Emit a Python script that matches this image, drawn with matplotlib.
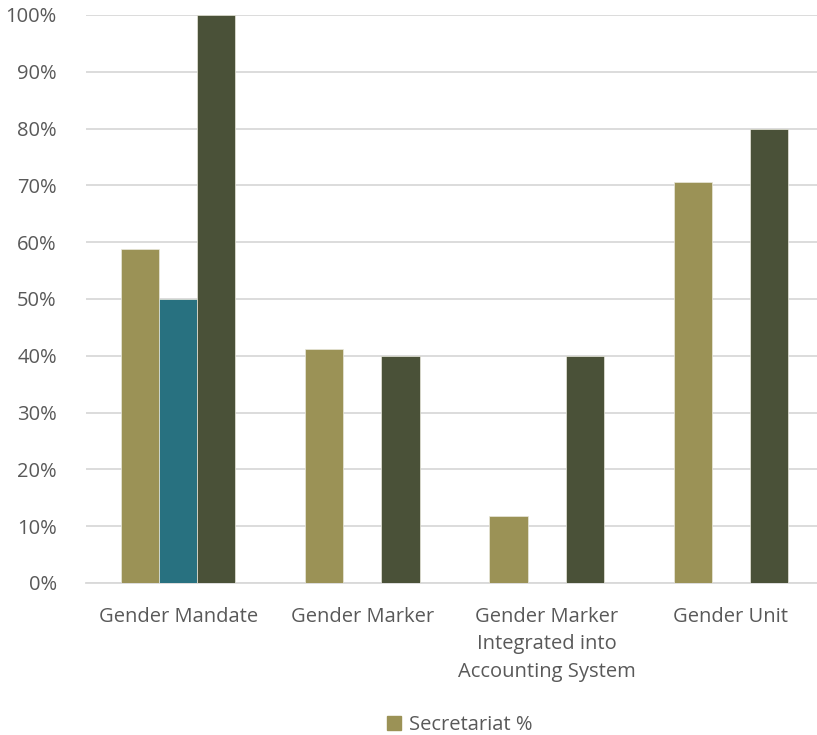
import numpy as np
import matplotlib.pyplot as plt
from matplotlib.patches import Patch

categories = ["Gender Mandate", "Gender Marker", "Gender Marker\nIntegrated into\nAccounting System", "Gender Unit"]
secretariat = [58.8, 41.2, 11.8, 70.6]
middle = [50.0, 0.0, 0.0, 0.0]
third = [100.0, 40.0, 40.0, 80.0]

col_olive = "#9B9256"
col_teal = "#287180"
col_dark = "#4A5138"
txt = "#595959"

plt.rcParams['font.family'] = ['Open Sans', 'DejaVu Sans']

fig = plt.figure(figsize=(8.17, 7.35), dpi=100)
ax = fig.add_axes([86 / 817, 1 - 583 / 735, 737 / 817, 568 / 735])

x = np.arange(len(categories))
w = 0.207
for off, vals, c in [(-w, secretariat, col_olive), (0, middle, col_teal), (w, third, col_dark)]:
    ax.bar(x + off, vals, width=w, color=c, edgecolor="#e9e8dc", linewidth=0.5, zorder=3)

ax.set_xlim(-0.5, len(categories) - 0.5)
ax.set_ylim(0, 100)
ax.set_yticks(np.arange(0, 101, 10))
ax.set_yticklabels([f"{v}%" for v in range(0, 101, 10)])
ax.yaxis.grid(True, color="#D9D9D9", linewidth=1.3, zorder=0)
ax.set_xticks(x)
ax.set_xticklabels(categories, linespacing=1.5)
ax.tick_params(axis='y', length=0, pad=21, labelsize=14.5, labelcolor=txt)
ax.tick_params(axis='x', length=0, pad=17, labelsize=14.5, labelcolor=txt)
for s in ["top", "right", "left"]:
    ax.spines[s].set_visible(False)
ax.spines["bottom"].set_color("#D9D9D9")
ax.spines["bottom"].set_linewidth(1.3)

fig.legend(handles=[Patch(color=col_olive, label="Secretariat %")], loc="center",
           bbox_to_anchor=(460 / 817, 1 - 725 / 735), frameon=False,
           fontsize=14.5, labelcolor=txt, handlelength=0.7, handleheight=0.7, handletextpad=0.4)

fig.savefig("out.png", dpi=100)
